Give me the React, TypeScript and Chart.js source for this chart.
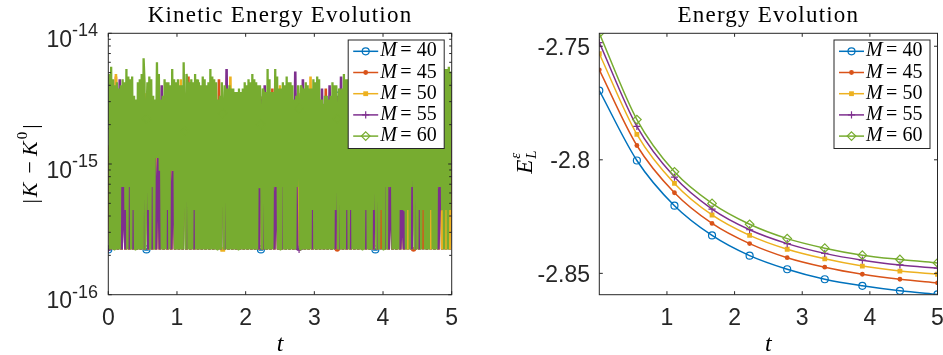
import { useEffect, useRef } from 'react';
import { Chart, registerables } from 'chart.js';

Chart.register(...registerables);

// ---------------- data ----------------
const EPS = 2.220446049250313e-16; // kinetic error values below are multiples of eps
const kinTEnd = 5;
const markerCount = 10; // markers at t = 0, 5/9, ..., 5

const mValues = [40, 45, 50, 55, 60];
const seriesColors = ['#0072BD', '#D95319', '#EDB120', '#7E2F8E', '#77AC30'];
const seriesMarkers = ['circle', 'dot', 'square', 'plus', 'diamond'];

// |K - K0| in units of eps, 181 samples on t in [0, 5]
const kinM40 = [
  1, 1, 12, 1, 11, 1, 13, 1, 12, 1, 14, 1, 13, 1, 10, 1, 13, 1, 14, 1,
  1, 1, 13, 1, 9, 1, 14, 1, 10, 1, 13, 1, 12, 1, 14, 1, 13, 1, 12, 1,
  14, 1, 13, 1, 13, 1, 14, 1, 12, 1, 13, 1, 12, 1, 14, 1, 13, 1, 10, 1,
  13, 1, 11, 1, 12, 1, 11, 1, 11, 1, 11, 1, 13, 1, 13, 1, 14, 1, 13, 1,
  1, 1, 11, 1, 14, 1, 11, 1, 14, 1, 12, 1, 13, 1, 14, 1, 13, 1, 10, 1,
  14, 1, 12, 1, 13, 1, 12, 1, 14, 1, 14, 1, 9, 1, 11, 1, 10, 1, 13, 1,
  15, 1, 11, 1, 15, 1, 13, 1, 15, 1, 13, 1, 14, 1, 13, 1, 15, 1, 13, 1,
  1, 1, 14, 1, 15, 1, 13, 1, 14, 1, 13, 1, 15, 1, 13, 1, 14, 1, 16, 1,
  14, 1, 15, 1, 14, 1, 16, 1, 13, 1, 15, 1, 14, 1, 16, 1, 17, 1, 16, 1,
  2,
];
const kinM45 = [
  5, 1, 13, 1, 21, 1, 12, 1, 14, 1, 13, 1, 15, 1, 11, 1, 14, 1, 15, 1,
  14, 1, 15, 1, 11, 1, 14, 1, 11, 1, 14, 1, 13, 1, 16, 1, 14, 1, 12, 1,
  15, 1, 21, 1, 14, 1, 13, 1, 13, 1, 15, 1, 13, 1, 14, 1, 14, 1, 20, 1,
  13, 1, 12, 1, 12, 1, 12, 1, 12, 1, 12, 1, 14, 1, 14, 1, 13, 1, 14, 1,
  14, 1, 12, 1, 13, 1, 17, 1, 16, 1, 12, 1, 14, 1, 15, 1, 14, 1, 11, 1,
  14, 1, 13, 1, 14, 1, 12, 1, 15, 1, 15, 1, 10, 1, 17, 1, 11, 1, 14, 1,
  1, 1, 12, 1, 16, 1, 14, 1, 16, 1, 14, 1, 15, 1, 14, 1, 16, 1, 14, 1,
  15, 1, 15, 1, 16, 1, 14, 1, 15, 1, 14, 1, 16, 1, 14, 1, 15, 1, 17, 1,
  1, 1, 16, 1, 15, 1, 17, 1, 14, 1, 16, 1, 15, 1, 17, 1, 18, 1, 17, 1,
  9,
];
const kinM50 = [
  6, 1, 15, 1, 22, 1, 11, 1, 13, 1, 16, 1, 14, 1, 10, 1, 13, 1, 17, 1,
  15, 1, 14, 1, 9, 1, 16, 1, 10, 1, 13, 1, 12, 1, 15, 1, 13, 1, 20, 1,
  14, 1, 13, 1, 12, 1, 15, 1, 12, 1, 14, 1, 11, 1, 16, 1, 13, 1, 10, 1,
  1, 1, 11, 1, 21, 1, 11, 1, 10, 1, 11, 1, 13, 1, 12, 1, 15, 1, 13, 1,
  14, 1, 11, 1, 16, 1, 11, 1, 15, 1, 18, 1, 13, 1, 14, 1, 13, 1, 10, 1,
  15, 1, 12, 1, 13, 1, 21, 1, 14, 1, 13, 1, 9, 1, 10, 1, 10, 1, 13, 1,
  14, 1, 11, 1, 15, 1, 13, 1, 14, 1, 13, 1, 14, 1, 13, 1, 15, 1, 13, 1,
  16, 1, 14, 2, 15, 1, 13, 1, 14, 1, 13, 1, 15, 1, 13, 1, 14, 1, 16, 1,
  15, 1, 15, 1, 14, 2, 16, 1, 13, 1, 15, 1, 14, 1, 16, 1, 17, 1, 16, 1,
  4,
];
const kinM55 = [
  1, 1, 14, 1, 12, 1, 20, 1, 3, 1, 15, 1, 13, 1, 9, 1, 12, 1, 16, 1,
  14, 1, 13, 1, 10, 1, 5, 1, 18, 1, 12, 1, 11, 1, 4, 1, 12, 1, 10, 1,
  15, 1, 12, 1, 13, 1, 14, 1, 11, 1, 13, 1, 12, 1, 15, 1, 12, 1, 9, 1,
  13, 1, 24, 1, 11, 1, 10, 1, 11, 1, 9, 1, 12, 1, 13, 1, 14, 1, 12, 1,
  14, 1, 18, 1, 15, 1, 10, 1, 3, 1, 11, 1, 12, 1, 13, 1, 12, 1, 23, 1,
  1, 1, 20, 1, 12, 1, 11, 1, 13, 1, 14, 1, 17, 1, 9, 1, 18, 1, 12, 1,
  14, 1, 21, 1, 14, 1, 12, 1, 15, 1, 12, 1, 13, 1, 12, 1, 14, 1, 12, 1,
  15, 1, 13, 2, 14, 1, 12, 1, 3, 1, 12, 1, 14, 1, 2, 1, 13, 2, 15, 1,
  14, 1, 14, 1, 13, 2, 15, 1, 12, 2, 14, 1, 13, 1, 3, 2, 16, 2, 15, 2,
  18,
];
// M = 60 was sampled twice as finely: 361 samples on t in [0, 5]
const kinM60 = [
  9, 22, 1, 25, 1, 20, 1, 18, 1, 19, 1, 17, 1, 18, 3, 20, 3, 19, 2, 24, 1, 21, 3, 20, 1, 21, 2, 15, 1, 14, 1, 19, 1, 20, 1, 22, 1, 29, 19, 1,
  10, 19, 2, 21, 1, 20, 3, 15, 1, 14, 5, 27, 5, 22, 4, 14, 1, 15, 1, 20, 1, 19, 2, 19, 1, 18, 4, 24, 4, 20, 1, 19, 1, 20, 1, 18, 1, 18, 1, 27,
  8, 1, 22, 19, 1, 19, 1, 20, 1, 19, 2, 22, 1, 20, 1, 19, 1, 18, 1, 21, 1, 20, 1, 18, 1, 19, 1, 24, 1, 21, 1, 20, 1, 19, 1, 14, 1, 15, 1, 19,
  11, 1, 18, 16, 1, 17, 1, 18, 1, 17, 1, 17, 1, 16, 1, 16, 1, 17, 1, 16, 1, 17, 1, 19, 1, 18, 1, 20, 1, 19, 1, 22, 1, 20, 1, 19, 1, 18, 3, 18,
  9, 1, 17, 16, 1, 16, 1, 24, 1, 20, 1, 16, 1, 16, 3, 24, 3, 21, 1, 17, 1, 17, 3, 19, 1, 18, 1, 21, 1, 19, 1, 19, 1, 18, 1, 14, 1, 15, 3, 18,
  12, 1, 18, 17, 1, 17, 1, 19, 1, 18, 1, 17, 1, 17, 2, 20, 1, 19, 1, 21, 1, 20, 1, 14, 1, 13, 1, 15, 1, 15, 1, 14, 1, 15, 1, 19, 1, 18, 2, 18,
  10, 1, 17, 16, 1, 17, 1, 22, 1, 20, 2, 20, 1, 19, 2, 23, 1, 21, 1, 19, 1, 18, 1, 21, 1, 20, 1, 20, 1, 19, 2, 22, 1, 21, 1, 19, 1, 20, 2, 21,
  9, 1, 20, 20, 1, 19, 2, 22, 1, 21, 3, 20, 1, 19, 3, 21, 3, 20, 1, 19, 1, 20, 1, 22, 1, 21, 2, 20, 2, 19, 2, 21, 1, 20, 2, 23, 1, 22, 3, 20,
  11, 1, 21, 22, 1, 21, 2, 21, 1, 20, 2, 24, 1, 22, 1, 20, 1, 21, 2, 22, 1, 21, 1, 21, 1, 22, 3, 23, 3, 22, 2, 25, 1, 24, 2, 24, 1, 25, 2, 23,
  11,
];

const energyT = [0, 0.5556, 1.1111, 1.6667, 2.2222, 2.7778, 3.3333, 3.8889, 4.4444, 5];
const energyM40 = [-2.7695, -2.8003, -2.8202, -2.8333, -2.8422, -2.8482, -2.8526, -2.8555, -2.8577, -2.8593];
const energyM45 = [-2.7604, -2.7937, -2.8145, -2.828, -2.8369, -2.8431, -2.8473, -2.8504, -2.8526, -2.8542];
const energyM50 = [-2.7533, -2.7888, -2.8104, -2.8243, -2.8333, -2.8394, -2.8436, -2.8468, -2.849, -2.8504];
const energyM55 = [-2.7484, -2.7853, -2.8076, -2.8217, -2.8308, -2.8369, -2.8412, -2.8442, -2.8463, -2.8477];
const energyM60 = [-2.7443, -2.7823, -2.8053, -2.8192, -2.8284, -2.8347, -2.8389, -2.842, -2.8439, -2.8454];

const kinXTicks = [0, 1, 2, 3, 4, 5];
const kinYTickExps = [-16, -15, -14];
const energyXTicks = [1, 2, 3, 4, 5];
const energyYTicks = [-2.85, -2.8, -2.75];
const energyYTickLabels = ['-2.85', '-2.8', '-2.75'];

const kinTitle = 'Kinetic Energy Evolution';
const energyTitle = 'Energy Evolution';

// ---------------- styling helpers ----------------
const AXIS = '#262626';
const SANS = '"Liberation Sans", Arial, Helvetica, sans-serif';
const SERIF = '"Liberation Serif", "Times New Roman", serif';
const TICK_FONT = `23px ${SANS}`;
const TL = 3.5;

function pointOpts(marker: string, color: string, every: number) {
  const radius: any = { circle: 3.5, dot: 2.4, square: 3.4, plus: 3.6, diamond: 4.3 }[marker];
  const style: any = { circle: 'circle', dot: 'circle', square: 'rect', plus: 'cross', diamond: 'rectRot' }[marker];
  const filled = marker === 'dot' || marker === 'square';
  return {
    pointStyle: style,
    pointRadius: every ? (c: any) => (c.dataIndex % every === 0 ? radius : 0) : radius,
    pointHoverRadius: 0,
    pointBackgroundColor: filled ? color : 'rgba(0,0,0,0)',
    pointBorderColor: color,
    pointBorderWidth: filled ? 0 : 1.2,
  };
}

function line(ctx: any, x1: number, y1: number, x2: number, y2: number) {
  ctx.beginPath();
  ctx.moveTo(x1, y1);
  ctx.lineTo(x2, y2);
  ctx.stroke();
}

function drawMarker(ctx: any, marker: string, x: number, y: number, color: string) {
  ctx.save();
  ctx.strokeStyle = color;
  ctx.fillStyle = color;
  ctx.lineWidth = 1.2;
  if (marker === 'circle') {
    ctx.beginPath(); ctx.arc(x, y, 3.5, 0, Math.PI * 2); ctx.stroke();
  } else if (marker === 'dot') {
    ctx.beginPath(); ctx.arc(x, y, 2.4, 0, Math.PI * 2); ctx.fill();
  } else if (marker === 'square') {
    ctx.fillRect(x - 2.4, y - 2.4, 4.8, 4.8);
  } else if (marker === 'plus') {
    line(ctx, x - 3.6, y, x + 3.6, y); line(ctx, x, y - 3.6, x, y + 3.6);
  } else {
    ctx.beginPath();
    ctx.moveTo(x, y - 4.3); ctx.lineTo(x + 4.3, y); ctx.lineTo(x, y + 4.3); ctx.lineTo(x - 4.3, y);
    ctx.closePath(); ctx.stroke();
  }
  ctx.restore();
}

function drawLegend(ctx: any, a: any) {
  const w = 96, h = 108.5;
  const bx = a.right - 7.5 - w, by = a.top + 6.7;
  ctx.save();
  ctx.fillStyle = '#ffffff';
  ctx.fillRect(bx, by, w, h);
  ctx.strokeStyle = AXIS;
  ctx.lineWidth = 1;
  ctx.strokeRect(bx, by, w, h);
  mValues.forEach((m, k) => {
    const cy = by + 11.3 + k * 21.2;
    ctx.strokeStyle = seriesColors[k];
    ctx.lineWidth = 1.5;
    line(ctx, bx + 5, cy, bx + 30, cy);
    drawMarker(ctx, seriesMarkers[k], bx + 17.5, cy, seriesColors[k]);
    ctx.fillStyle = '#000';
    ctx.textAlign = 'left';
    ctx.textBaseline = 'alphabetic';
    ctx.font = `italic 20px ${SERIF}`;
    ctx.fillText('M', bx + 32, cy + 5);
    ctx.font = `20px ${SERIF}`;
    ctx.fillText('=', bx + 52, cy + 5);
    ctx.fillText(String(m), bx + 68.5, cy + 5);
  });
  ctx.restore();
}

function drawRich(ctx: any, runs: any[], bx: number, cy: number, rotate: boolean) {
  ctx.save();
  ctx.translate(bx, cy);
  if (rotate) ctx.rotate(-Math.PI / 2);
  ctx.textAlign = 'left';
  ctx.textBaseline = 'alphabetic';
  ctx.fillStyle = '#000';
  let total = 0;
  const adv = runs.map((r) => {
    ctx.font = r.font;
    const w = r.stack ? 0 : ctx.measureText(r.text).width + (r.gap || 0);
    total += w;
    return w;
  });
  let x = -total / 2;
  runs.forEach((r, i) => {
    ctx.font = r.font;
    ctx.fillText(r.text, x + (r.pre || 0), r.dy || 0);
    x += adv[i];
  });
  ctx.restore();
}

function drawTitle(ctx: any, text: string, cx: number) {
  ctx.save();
  ctx.fillStyle = '#000';
  ctx.font = `23px ${SERIF}`;
  ctx.letterSpacing = '1.2px';
  ctx.textAlign = 'center';
  ctx.textBaseline = 'alphabetic';
  ctx.fillText(text, cx, 21.7);
  ctx.restore();
}

function drawXLabel(ctx: any, cx: number) {
  ctx.save();
  ctx.fillStyle = '#000';
  ctx.font = `italic 24px ${SERIF}`;
  ctx.textAlign = 'center';
  ctx.textBaseline = 'alphabetic';
  ctx.fillText('t', cx, 351);
  ctx.restore();
}

const kinDecor = {
  id: 'kinDecor',
  afterDraw(chart: any) {
    const ctx = chart.ctx;
    const a = chart.chartArea;
    const xs = chart.scales.x;
    const ys = chart.scales.y;
    ctx.save();
    ctx.strokeStyle = AXIS;
    ctx.lineWidth = 1;
    ctx.strokeRect(a.left, a.top, a.right - a.left, a.bottom - a.top);
    ctx.fillStyle = AXIS;
    ctx.textBaseline = 'alphabetic';
    kinXTicks.forEach((v) => {
      const px = xs.getPixelForValue(v);
      line(ctx, px, a.bottom, px, a.bottom - TL);
      line(ctx, px, a.top, px, a.top + TL);
      ctx.font = TICK_FONT;
      ctx.textAlign = 'center';
      ctx.fillText(String(v), px, a.bottom + 30.3);
    });
    for (let e = kinYTickExps[0]; e < kinYTickExps[kinYTickExps.length - 1]; e++) {
      for (let m = 2; m <= 9; m++) {
        const py = ys.getPixelForValue(m * Math.pow(10, e));
        line(ctx, a.left, py, a.left + 2.5, py);
        line(ctx, a.right, py, a.right - 2.5, py);
      }
    }
    kinYTickExps.forEach((e) => {
      const py = ys.getPixelForValue(Math.pow(10, e));
      line(ctx, a.left, py, a.left + TL, py);
      line(ctx, a.right, py, a.right - TL, py);
      ctx.font = TICK_FONT;
      ctx.textAlign = 'right';
      ctx.fillText('10', a.left - 36.3, py + 13.5);
      ctx.font = `18px ${SANS}`;
      ctx.textAlign = 'left';
      ctx.fillText(String(e), a.left - 36.3, py + 3);
    });
    ctx.restore();
    const cx = (a.left + a.right) / 2;
    drawTitle(ctx, kinTitle, cx);
    drawXLabel(ctx, cx);
    const f = `22px ${SERIF}`;
    const fi = `italic 22px ${SERIF}`;
    drawRich(ctx, [
      { text: '|', font: f, gap: 2 },
      { text: 'K', font: fi, gap: 4 },
      { text: '\u2212', font: f, gap: 5, pre: 5 },
      { text: 'K', font: fi, gap: 7, pre: 5 },
      { text: '0', font: `15px ${SERIF}`, dy: -10, gap: 3 },
      { text: '|', font: f },
    ], a.left - 71, (a.top + a.bottom) / 2, true);
    drawLegend(ctx, a);
  },
};

const energyDecor = {
  id: 'energyDecor',
  afterDraw(chart: any) {
    const ctx = chart.ctx;
    const a = chart.chartArea;
    const xs = chart.scales.x;
    const ys = chart.scales.y;
    ctx.save();
    ctx.strokeStyle = AXIS;
    ctx.lineWidth = 1;
    ctx.strokeRect(a.left, a.top, a.right - a.left, a.bottom - a.top);
    ctx.fillStyle = AXIS;
    ctx.textBaseline = 'alphabetic';
    energyXTicks.forEach((v) => {
      const px = xs.getPixelForValue(v);
      line(ctx, px, a.bottom, px, a.bottom - TL);
      line(ctx, px, a.top, px, a.top + TL);
      ctx.font = TICK_FONT;
      ctx.textAlign = 'center';
      ctx.fillText(String(v), px, a.bottom + 30.3);
    });
    energyYTicks.forEach((v, i) => {
      const py = ys.getPixelForValue(v);
      line(ctx, a.left, py, a.left + TL, py);
      line(ctx, a.right, py, a.right - TL, py);
      ctx.font = TICK_FONT;
      ctx.textAlign = 'right';
      ctx.fillText(energyYTickLabels[i], a.left - 9.3, py + 8.5);
    });
    ctx.restore();
    const cx = (a.left + a.right) / 2;
    drawTitle(ctx, energyTitle, cx);
    drawXLabel(ctx, cx);
    drawRich(ctx, [
      { text: 'E', font: `italic 23px ${SERIF}`, gap: 1 },
      { text: '\u03b5', font: `italic 15px ${SERIF}`, dy: -12, stack: true },
      { text: 'L', font: `italic 15px ${SERIF}`, dy: 4 },
    ], a.left - 67.6, (a.top + a.bottom) / 2 - 2, true);
    drawLegend(ctx, a);
  },
};

function kinConfig(): any {
  const series = [kinM40, kinM45, kinM50, kinM55, kinM60];
  return {
    type: 'line',
    data: {
      datasets: series.map((arr, s) => {
        const steps = arr.length - 1;
        return {
          label: `M = ${mValues[s]}`,
          data: arr.map((k, i) => ({ x: (i * kinTEnd) / steps, y: k * EPS })),
          borderColor: seriesColors[s],
          borderWidth: s === 4 ? 2.3 : 2.6,
          borderJoinStyle: 'bevel',
          fill: false,
          tension: 0,
          order: 5 - s,
          ...pointOpts(seriesMarkers[s], seriesColors[s], steps / (markerCount - 1)),
        };
      }),
    },
    options: {
      animation: false,
      responsive: false,
      devicePixelRatio: 1,
      events: [],
      layout: { padding: { left: 0, top: 33.3, right: 19.3, bottom: 0 } },
      plugins: { legend: { display: false }, tooltip: { enabled: false }, title: { display: false } },
      scales: {
        x: {
          type: 'linear', min: 0, max: kinTEnd,
          ticks: { display: false }, grid: { display: false }, border: { display: false },
          afterFit: (s: any) => { s.height = 60.3; s.paddingLeft = 0; s.paddingRight = 0; },
        },
        y: {
          type: 'logarithmic', min: 1e-16, max: 1e-14,
          ticks: { display: false }, grid: { display: false }, border: { display: false },
          afterFit: (s: any) => { s.width = 108.3; s.paddingTop = 0; s.paddingBottom = 0; },
        },
      },
    },
    plugins: [kinDecor],
  };
}

function energyConfig(): any {
  const series = [energyM40, energyM45, energyM50, energyM55, energyM60];
  return {
    type: 'line',
    data: {
      datasets: series.map((arr, s) => ({
        label: `M = ${mValues[s]}`,
        data: arr.map((v, i) => ({ x: energyT[i], y: v })),
        borderColor: seriesColors[s],
        borderWidth: 1.5,
        fill: false,
        cubicInterpolationMode: 'monotone',
        order: 5 - s,
        ...pointOpts(seriesMarkers[s], seriesColors[s], 0),
      })),
    },
    options: {
      animation: false,
      responsive: false,
      devicePixelRatio: 1,
      events: [],
      layout: { padding: { left: 0, top: 33.3, right: 0.7, bottom: 0 } },
      plugins: { legend: { display: false }, tooltip: { enabled: false }, title: { display: false } },
      scales: {
        x: {
          type: 'linear', min: 0, max: 5,
          ticks: { display: false }, grid: { display: false }, border: { display: false },
          afterFit: (s: any) => { s.height = 60.3; s.paddingLeft = 0; s.paddingRight = 0; },
        },
        y: {
          type: 'linear', min: -2.8594, max: -2.7443,
          ticks: { display: false }, grid: { display: false }, border: { display: false },
          afterFit: (s: any) => { s.width = 128.3; s.paddingTop = 0; s.paddingBottom = 0; },
        },
      },
    },
    plugins: [energyDecor],
  };
}

export default function App() {
  const leftRef = useRef<HTMLCanvasElement>(null);
  const rightRef = useRef<HTMLCanvasElement>(null);
  useEffect(() => {
    const c1 = new Chart(leftRef.current as HTMLCanvasElement, kinConfig());
    const c2 = new Chart(rightRef.current as HTMLCanvasElement, energyConfig());
    return () => {
      c1.destroy();
      c2.destroy();
    };
  }, []);
  return (
    <div style={{ position: 'fixed', left: 0, top: 0, width: 943, height: 355, background: '#ffffff', overflow: 'hidden' }}>
      <canvas ref={leftRef} width={471} height={355} style={{ position: 'absolute', left: 0, top: 0, width: 471, height: 355 }} />
      <canvas ref={rightRef} width={472} height={355} style={{ position: 'absolute', left: 471, top: 0, width: 472, height: 355 }} />
    </div>
  );
}
